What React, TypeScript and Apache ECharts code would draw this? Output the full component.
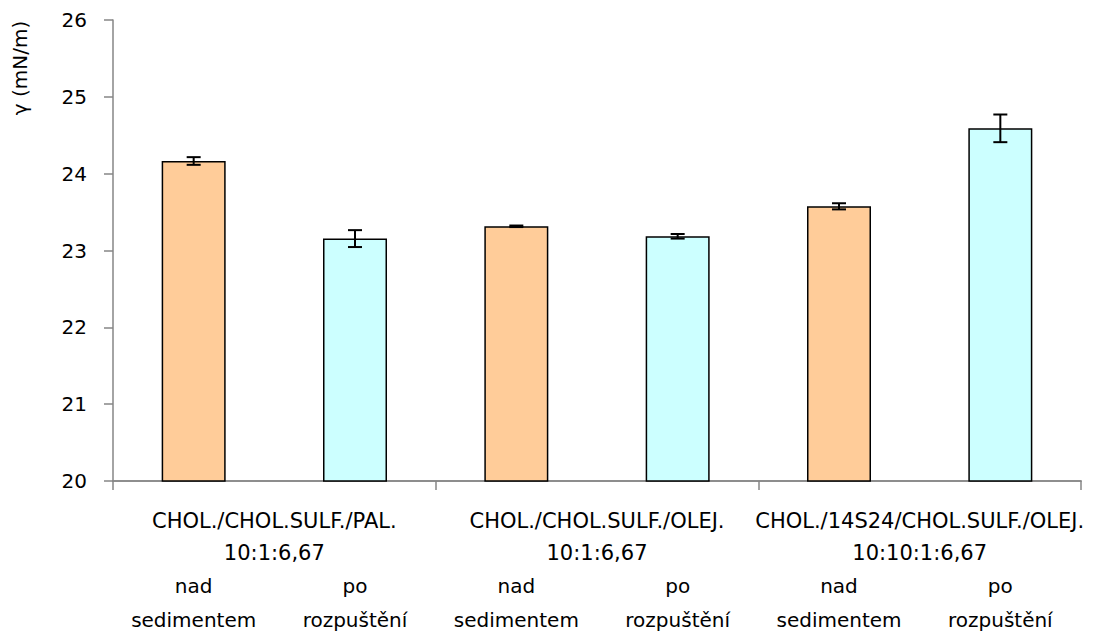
import React, { useEffect, useRef } from "react";
import * as echarts from "echarts";

const categories = [
  "nad\nsedimentem",
  "po\nrozpuštění",
  "nad\nsedimentem",
  "po\nrozpuštění",
  "nad\nsedimentem",
  "po\nrozpuštění",
];
const groups = [
  "CHOL./CHOL.SULF./PAL.\n10:1:6,67",
  "CHOL./CHOL.SULF./OLEJ.\n10:1:6,67",
  "CHOL./14S24/CHOL.SULF./OLEJ.\n10:10:1:6,67",
];
const values = [24.165, 23.155, 23.315, 23.185, 23.575, 24.59];
const errors = [0.05, 0.11, 0.01, 0.03, 0.04, 0.18];
const barColors = ["#FFCC99", "#CCFFFF", "#FFCC99", "#CCFFFF", "#FFCC99", "#CCFFFF"];
const yTicks = { min: 20, max: 26, interval: 1 };
const yName = "γ (mN/m)";

const FONT = "DejaVu Sans";
const AXIS = "#868686";

export default function App() {
  const ref = useRef<HTMLDivElement>(null);
  useEffect(() => {
    if (!ref.current) return;
    const chart = echarts.init(ref.current, null, { renderer: "svg" });
    const errData = values.map((v, i) => [i, v - errors[i], v + errors[i]]);
    chart.setOption({
      animation: false,
      backgroundColor: "#ffffff",
      textStyle: { fontFamily: FONT },
      grid: { left: 113, right: 32, top: 20, bottom: 149 },
      xAxis: [
        {
          type: "category",
          data: categories,
          position: "bottom",
          axisLine: { show: true, lineStyle: { color: AXIS, width: 1.5 } },
          axisTick: { show: false },
          axisLabel: {
            interval: 0,
            margin: 88,
            fontSize: 20,
            lineHeight: 34,
            color: "#000",
            fontFamily: FONT,
          },
        },
        {
          type: "category",
          data: groups,
          position: "bottom",
          axisLine: { show: true, lineStyle: { color: AXIS, width: 1.5 } },
          axisTick: { show: true, length: 9, interval: 0, lineStyle: { color: AXIS, width: 1.5 } },
          axisLabel: {
            interval: 0,
            margin: 24,
            fontSize: 21,
            lineHeight: 32,
            color: "#000",
            fontFamily: FONT,
          },
        },
      ],
      yAxis: {
        type: "value",
        min: yTicks.min,
        max: yTicks.max,
        interval: yTicks.interval,
        splitLine: { show: false },
        axisLine: { show: true, lineStyle: { color: AXIS, width: 1.5 } },
        axisTick: { show: true, length: 9, inside: false, lineStyle: { color: AXIS, width: 1.5 } },
        axisLabel: { margin: 26, fontSize: 20, color: "#000", fontFamily: FONT },
      },
      graphic: [
        {
          type: "text",
          x: 20,
          y: 68,
          rotation: Math.PI / 2,
          style: {
            text: yName,
            fontSize: 20,
            fontFamily: FONT,
            fill: "#000",
            align: "center",
            verticalAlign: "middle",
          },
        },
      ],
      series: [
        {
          type: "bar",
          xAxisIndex: 0,
          barWidth: 64,
          data: values.map((v, i) => ({
            value: v,
            itemStyle: { color: barColors[i], borderColor: "#000", borderWidth: 1.5 },
          })),
        },
        {
          type: "custom",
          xAxisIndex: 0,
          data: errData,
          z: 10,
          renderItem: (params: any, api: any) => {
            const x = api.value(0);
            const lo = api.coord([x, api.value(1)]);
            const hi = api.coord([x, api.value(2)]);
            const hw = 7;
            const style = { stroke: "#000", lineWidth: 2 };
            return {
              type: "group",
              children: [
                { type: "line", shape: { x1: lo[0], y1: lo[1], x2: hi[0], y2: hi[1] }, style },
                { type: "line", shape: { x1: lo[0] - hw, y1: lo[1], x2: lo[0] + hw, y2: lo[1] }, style },
                { type: "line", shape: { x1: hi[0] - hw, y1: hi[1], x2: hi[0] + hw, y2: hi[1] }, style },
              ],
            };
          },
        },
      ],
    });
    return () => chart.dispose();
  }, []);
  return (
    <div
      ref={ref}
      style={{ position: "fixed", left: 0, top: 0, width: 1113, height: 637, background: "#fff" }}
    />
  );
}
